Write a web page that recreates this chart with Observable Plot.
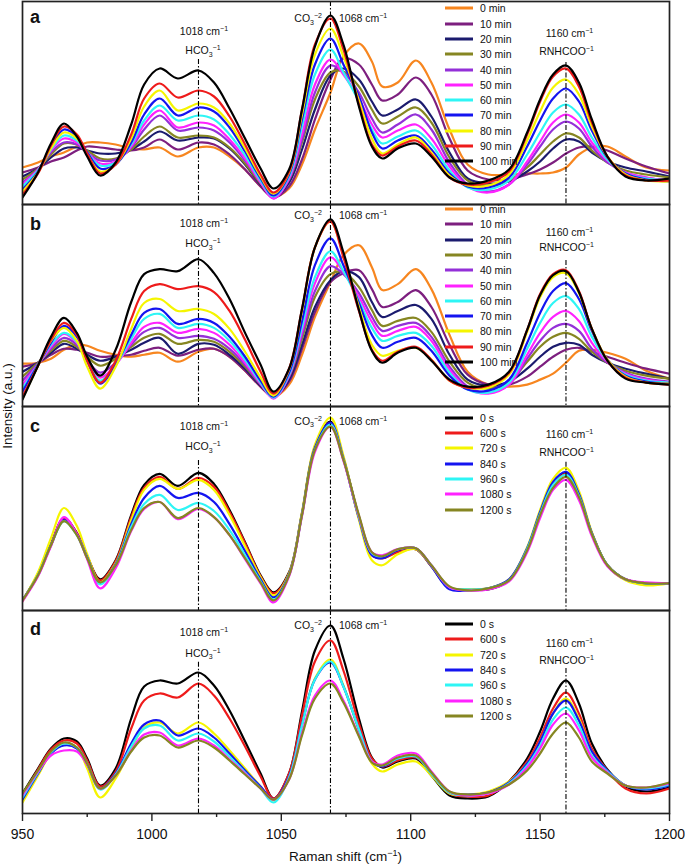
<!DOCTYPE html>
<html><head><meta charset="utf-8">
<script src="https://cdn.jsdelivr.net/npm/d3@7"></script>
<script src="https://cdn.jsdelivr.net/npm/@observablehq/plot@0.6"></script>
<style>
body{margin:0;background:#fff;font-family:"Liberation Sans",Arial,Helvetica,sans-serif;color:#111;}
#root{position:relative;width:685px;height:864px;overflow:hidden;background:#fff;}
.ann{position:absolute;font-size:10.5px;white-space:nowrap;line-height:12px;}
.ann sub,.ann sup{font-size:7px;line-height:0;position:relative;}
.ann sub{vertical-align:baseline;top:2.5px;}
.ann sup{vertical-align:baseline;top:-4px;}
.leg{position:absolute;font-size:10.5px;line-height:12px;white-space:nowrap;transform:translateY(-50%);}
.sw{position:absolute;height:3px;transform:translateY(-50%);}
.letter{position:absolute;font-size:18px;font-weight:bold;line-height:18px;}
</style></head>
<body><div id="root"></div>
<script>
// ---------- data ----------
const ramanShift = [950,956,961,966,971,975,980,986,992,997, 1003,1010,1018,1024,1030,1036,1042,1047, 1053,1058,1063,1069,1074,1080,1085,1089,1095, 1102,1108,1115,1122,1130,1138,1145, 1150,1155,1160,1165,1170,1176,1183,1191,1200];

const minuteLabels = ["0 min","10 min","20 min","30 min","40 min","50 min","60 min","70 min","80 min","90 min","100 min"];
const secondLabels = ["0 s","600 s","720 s","840 s","960 s","1080 s","1200 s"];
const minuteColors = ["#F7861F","#7D1F7F","#1B1B6E","#868622","#9430D8","#FF22FF","#2EF5F5","#1414F0","#F5F500","#EE1B1B","#000000"];
const secondColors = ["#000000","#EE1B1B","#F5F500","#1414F0","#2EF5F5","#FF22FF","#868622"];

const bandPositions = [1018, 1069, 1160];
const bandWavenumbers = ["1018", "1068", "1160"];
const bandSpecies = [["HCO","3","\u22121"], ["CO","3","\u22122"], ["RNHCOO","","\u22121"]];
const majorTicks = [950,1000,1050,1100,1150,1200];
const minorTicks = [975,1025,1075,1125,1175];

// panel a (min)
const a_0min   = [37,42,48,52,58,62,62,60,56,55, 57,48,57,57,48,35,18,8, 16,40,75,112,148,161,143,118,122, 144,122,75,40,30,30,31, 31,32,37,50,57,58,48,37,34];
const a_10min  = [32,37,43,47,54,58,57,55,54,57, 65,55,62,60,50,35,18,7, 18,45,85,125,146,140,120,104,110, 127,110,66,34,25,25,30, 35,42,51,57,58,54,46,38,31];
const a_20min  = [28,36,47,56,57,54,51,51,55,63, 73,64,67,66,56,40,20,8, 22,55,95,129,136,125,103,89,95, 105,88,52,26,21,23,33, 43,56,65,63,52,43,37,33,28];
const a_30min  = [25,36,50,61,60,54,46,46,55,68, 78,67,69,67,57,41,21,8, 25,62,105,132,133,118,95,81,88, 97,82,47,24,19,24,37, 50,63,71,67,54,42,34,30,27];
const a_40min  = [22,35,52,62,60,52,44,45,57,75, 89,74,77,74,62,44,22,6, 25,65,112,139,132,112,86,72,80, 90,75,42,20,13,20,40, 58,75,83,76,58,42,32,27,24];
const a_50min  = [20,35,54,66,62,52,41,43,58,80, 94,77,82,79,65,46,22,6, 26,70,120,145,130,106,80,67,74, 80,66,38,18,12,20,43, 63,82,90,82,62,44,32,27,24];
const a_60min  = [18,34,55,69,64,52,39,42,60,84, 99,84,89,85,70,49,24,8, 28,78,130,155,132,103,75,61,68, 74,60,34,17,15,24,50, 72,92,100,90,67,45,31,26,24];
const a_70min  = [15,33,57,75,68,52,36,40,62,90, 106,89,97,93,77,53,26,9, 30,85,140,166,140,108,72,56,64, 69,55,31,18,17,27,58, 84,106,116,103,74,47,31,25,23];
const a_80min  = [13,32,56,72,66,50,33,40,66,98, 114,94,101,97,81,56,28,11, 32,90,150,176,148,104,66,51,60, 67,52,29,19,19,30,64, 93,117,125,110,78,48,30,24,23];
const a_90min  = [10,31,59,78,70,51,31,40,70,106, 121,107,114,108,88,60,30,12, 33,95,160,186,155,100,60,49,58, 64,50,27,20,22,33,70, 103,128,136,118,82,48,29,24,24];
const a_100min = [7,32,61,81,68,48,29,42,80,120, 136,126,134,122,96,66,36,16, 35,95,158,189,160,98,58,46,56, 61,48,27,21,24,35,72, 105,130,139,122,85,48,28,24,26];

// panel b (min)
const b_0min   = [43,44,48,57,62,61,56,52,50,52, 54,45,55,58,50,36,20,10, 22,52,90,125,152,162,140,117,123, 138,118,72,35,22,20,22, 27,33,44,56,57,54,48,36,28];
const b_10min  = [40,44,52,58,57,54,50,51,52,56, 59,51,57,58,50,36,20,10, 25,58,95,125,134,137,118,100,105, 117,100,62,32,22,22,30, 40,50,57,59,55,50,44,38,33];
const b_20min  = [35,44,54,63,58,52,46,50,57,64, 69,53,63,62,52,38,21,10, 27,62,100,127,136,130,105,90,96, 102,88,52,27,21,25,38, 50,60,64,62,52,44,38,33,28];
const b_30min  = [30,44,56,66,60,50,41,48,60,69, 73,63,67,65,55,40,22,10, 30,68,110,133,135,120,97,81,86, 89,75,45,24,18,25,45, 60,70,74,68,55,44,36,31,28];
const b_40min  = [26,43,58,69,62,47,34,44,62,75, 79,69,71,68,58,42,22,9, 30,72,116,141,133,114,90,76,81, 84,70,40,20,14,22,48, 66,79,83,76,58,44,34,28,25];
const b_50min  = [22,42,60,73,64,46,29,42,64,80, 84,74,78,74,62,44,23,8, 31,76,124,150,135,110,85,71,76, 80,66,37,18,13,22,52, 74,90,96,86,64,45,33,27,24];
const b_60min  = [18,42,62,74,65,45,26,42,68,88, 93,79,83,79,66,47,24,9, 32,80,130,156,136,106,79,66,71, 74,61,34,17,14,24,58, 84,104,111,98,70,46,32,26,24];
const b_70min  = [15,42,64,81,70,46,23,42,72,94, 98,83,88,84,70,50,26,10, 34,86,142,169,142,104,72,59,65, 69,56,31,17,16,27,64, 94,116,124,108,76,47,31,25,23];
const b_80min  = [8,41,66,79,66,40,18,40,78,104, 108,96,98,93,78,55,29,11, 37,96,160,186,152,100,62,51,56, 59,47,26,19,19,32,75, 110,130,134,114,78,47,30,24,23];
const b_90min  = [10,41,67,84,72,46,24,46,88,116, 123,118,121,115,96,67,35,13, 38,98,160,186,150,96,57,46,55, 60,47,26,19,21,34,77, 113,133,137,116,78,46,29,24,22];
const b_100min = [7,41,70,89,74,50,31,57,105,133, 138,136,148,134,108,74,42,15, 38,98,160,188,155,97,56,44,54, 59,46,27,20,22,35,77, 112,132,136,115,78,46,28,24,22];

// panel c (s)
const c_0s    = [10,36,66,92,77,54,31,50,95,125, 136,124,137,126,100,68,35,18, 38,97,163,188,152,93,56,52,59, 61,44,22,21,21,30,60, 96,125,137,116,77,45,31,27,27];
const c_600s  = [10,36,66,91,77,54,30,49,93,122, 133,121,132,123,98,67,34,17, 37,96,162,187,151,92,55,52,58, 61,44,23,21,22,30,61, 96,125,136,115,77,45,31,27,27];
const c_720s  = [9,38,72,102,84,56,28,47,90,120, 131,121,130,120,95,64,33,15, 37,98,165,192,154,90,50,45,56, 61,44,22,21,22,31,63, 100,131,142,119,78,45,30,25,27];
const c_840s  = [10,35,65,90,76,53,27,46,86,112, 124,112,117,108,86,59,31,13, 36,96,162,187,151,92,55,52,60, 62,44,21,20,22,31,62, 98,128,138,116,77,45,31,27,27];
const c_960s  = [10,35,65,89,75,52,26,45,83,106, 115,100,107,99,80,55,29,11, 35,95,160,185,150,93,57,54,61, 62,45,23,21,22,30,61, 96,125,135,114,76,45,31,27,27];
const c_1080s = [9,34,64,93,76,51,22,42,79,101, 108,91,101,93,75,51,27,8, 34,94,158,183,149,94,58,55,61, 62,45,23,20,21,29,58, 92,120,130,110,74,44,31,28,27];
const c_1200s = [10,35,65,89,75,52,28,45,80,102, 108,92,102,93,75,52,28,10, 35,95,160,183,150,95,58,54,61, 62,45,24,20,22,30,60, 95,122,133,113,76,45,31,27,27];

// panel d (s)
const d_0s    = [20,45,65,75,72,55,28,45,95,127, 133,130,141,128,103,72,40,15, 40,102,163,188,155,95,56,46,52, 55,38,18,15,17,32,55, 82,115,133,110,70,44,27,22,26];
const d_600s  = [18,44,64,73,70,53,27,42,85,113, 120,116,130,118,95,67,37,15, 40,98,152,173,143,90,55,47,53, 56,40,20,17,18,32,52, 76,105,121,100,65,43,25,20,25];
const d_720s  = [11,38,60,70,66,45,16,35,65,86, 91,80,91,80,63,45,27,13, 36,88,135,154,128,83,50,42,49, 52,38,20,19,22,32,50, 72,100,115,95,62,43,28,25,29];
const d_840s  = [14,40,60,68,65,49,25,40,70,89, 93,78,85,76,60,43,27,14, 37,89,134,151,127,84,52,47,55, 57,40,21,19,21,31,50, 72,100,113,93,62,43,28,24,28];
const d_960s  = [16,41,61,70,66,50,24,39,67,85, 88,73,80,72,57,41,25,11, 36,88,134,152,127,84,52,48,55, 57,40,21,18,20,30,48, 68,94,106,88,58,42,28,25,29];
const d_1080s = [18,42,58,63,62,49,25,38,63,79, 81,68,75,68,54,40,25,14, 34,80,118,133,113,78,52,49,58, 60,42,22,18,20,29,46, 65,89,100,83,56,41,28,26,30];
const d_1200s = [20,43,62,71,66,50,25,38,62,76, 78,66,73,66,53,39,25,14, 34,78,115,130,111,77,51,48,56, 58,41,22,19,21,29,43, 60,80,91,76,52,40,28,26,31];

const panelASeries = [a_0min,a_10min,a_20min,a_30min,a_40min,a_50min,a_60min,a_70min,a_80min,a_90min,a_100min];
const panelBSeries = [b_0min,b_10min,b_20min,b_30min,b_40min,b_50min,b_60min,b_70min,b_80min,b_90min,b_100min];
const panelCSeries = [c_0s,c_600s,c_720s,c_840s,c_960s,c_1080s,c_1200s];
const panelDSeries = [d_0s,d_600s,d_720s,d_840s,d_960s,d_1080s,d_1200s];

// ---------- layout ----------
const root = document.getElementById("root");
const W = 685, ML = 22, MR = 16;
const panels = [
  {letter:"a", top:1,   h:203, series:panelASeries, labels:minuteLabels, colors:minuteColors,
   off:{letter:7, legend:7.3, wn1018:29.7, sp1018:49, co3:17.3, wn1160:32, sp1160:50, rule1018:58, rule1160:61}},
  {letter:"b", top:204, h:202, series:panelBSeries, labels:minuteLabels, colors:minuteColors,
   off:{letter:11, legend:5, wn1018:18.7, sp1018:39, co3:11, wn1160:27.7, sp1160:42.7, rule1018:46, rule1160:56}},
  {letter:"c", top:406, h:204, series:panelCSeries, labels:secondLabels, colors:secondColors,
   off:{letter:11, legend:11.7, wn1018:20, sp1018:40, co3:14.7, wn1160:28, sp1160:46, rule1018:54, rule1160:55.7}},
  {letter:"d", top:610, h:203, series:panelDSeries, labels:secondLabels, colors:secondColors,
   off:{letter:10, legend:14, wn1018:21.7, sp1018:42.7, co3:15, wn1160:32.7, sp1160:50, rule1018:51.7, rule1160:58}}
];

function addDiv(cls, html, styles) {
  const d = document.createElement("div");
  d.className = cls; d.innerHTML = html;
  Object.assign(d.style, styles);
  root.appendChild(d);
  return d;
}
const dash = {stroke:"#000", strokeWidth:1.1, strokeDasharray:"5,2,1.5,2"};

panels.forEach((p, k) => {
  const last = k === panels.length - 1;
  const mt = 2, mb = last ? 51 : 2;
  const rows = p.series.flatMap((vals, i) => ramanShift.map((w, j) => ({w, v: vals[j], s: p.labels[i]})));
  const marks = [
    Plot.line(rows, {x:"w", y:"v", z:"s", stroke:"s", strokeWidth:2.2, curve:"catmull-rom", clip:true}),
    Plot.ruleX([bandPositions[0]], {...dash, insetTop:p.off.rule1018}),
    Plot.ruleX([bandPositions[1]], {...dash}),
    Plot.ruleX([bandPositions[2]], {...dash, insetTop:p.off.rule1160}),
    Plot.frame({stroke:"#222", strokeWidth:1.7})
  ];
  if (last) {
    marks.push(Plot.axisX({ticks:majorTicks, tickSize:8, tickPadding:8, fontSize:14, tickFormat:d => String(d), label:null, strokeWidth:1.4, stroke:"#222"}));
    marks.push(Plot.axisX({ticks:minorTicks, tickSize:4, tickFormat:() => "", label:null, strokeWidth:1.4, stroke:"#222"}));
  }
  const xOpts = {domain:[950,1200]};
  if (!last) xOpts.axis = null;
  const svg = Plot.plot({
    width:W, height:p.h + mt + mb,
    marginLeft:ML, marginRight:MR, marginTop:mt, marginBottom:mb,
    x:xOpts, y:{domain:[0,203], axis:null},
    color:{domain:p.labels, range:p.colors},
    style:{background:"none", fontFamily:"'Liberation Sans', Arial, sans-serif", color:"#111", overflow:"visible"},
    marks
  });
  svg.style.position = "absolute";
  svg.style.left = "0px";
  svg.style.top = (p.top - mt) + "px";
  root.appendChild(svg);

  const xs = svg.scale("x");
  const x1 = xs.apply(bandPositions[0]), x2 = xs.apply(bandPositions[1]), x3 = xs.apply(bandPositions[2]);
  const T = p.top, o = p.off;
  const center = {transform:"translate(-50%,-50%)"};
  const sp = b => `${b[0]}<sub>${b[1]}</sub><sup>${b[2]}</sup>`;
  addDiv("ann", `${bandWavenumbers[0]} cm<sup>\u22121</sup>`, {left:(x1+6)+"px", top:(T+o.wn1018)+"px", ...center});
  addDiv("ann", sp(bandSpecies[0]), {left:(x1+5)+"px", top:(T+o.sp1018)+"px", ...center});
  addDiv("ann", sp(bandSpecies[1]), {right:(W - x2 + 8)+"px", top:(T+o.co3)+"px", transform:"translateY(-50%)"});
  addDiv("ann", `${bandWavenumbers[1]} cm<sup>\u22121</sup>`, {left:(x2+9)+"px", top:(T+o.co3)+"px", transform:"translateY(-50%)"});
  addDiv("ann", `${bandWavenumbers[2]} cm<sup>\u22121</sup>`, {left:(x3+4)+"px", top:(T+o.wn1160)+"px", ...center});
  addDiv("ann", sp(bandSpecies[2]), {left:(x3+1)+"px", top:(T+o.sp1160)+"px", ...center});

  addDiv("letter", p.letter, {left:"30px", top:(T+o.letter)+"px"});

  p.labels.forEach((lab, i) => {
    const yc = T + o.legend + i * 15.3;
    addDiv("sw", "", {left:"445px", width:"28px", top:yc+"px", background:p.colors[i]});
    addDiv("leg", lab, {left:"480px", top:yc+"px"});
  });
});

addDiv("ann", "Intensity (a.u.)", {left:"7px", top:"406px", fontSize:"13.5px", lineHeight:"15px", transform:"translate(-50%,-50%) rotate(-90deg)"});
addDiv("ann", "Raman shift (cm<sup style='font-size:9px;top:-5px'>\u22121</sup>)", {left:"345.5px", top:"856px", fontSize:"13.5px", lineHeight:"15px", transform:"translate(-50%,-50%)"});
</script>
</body></html>
